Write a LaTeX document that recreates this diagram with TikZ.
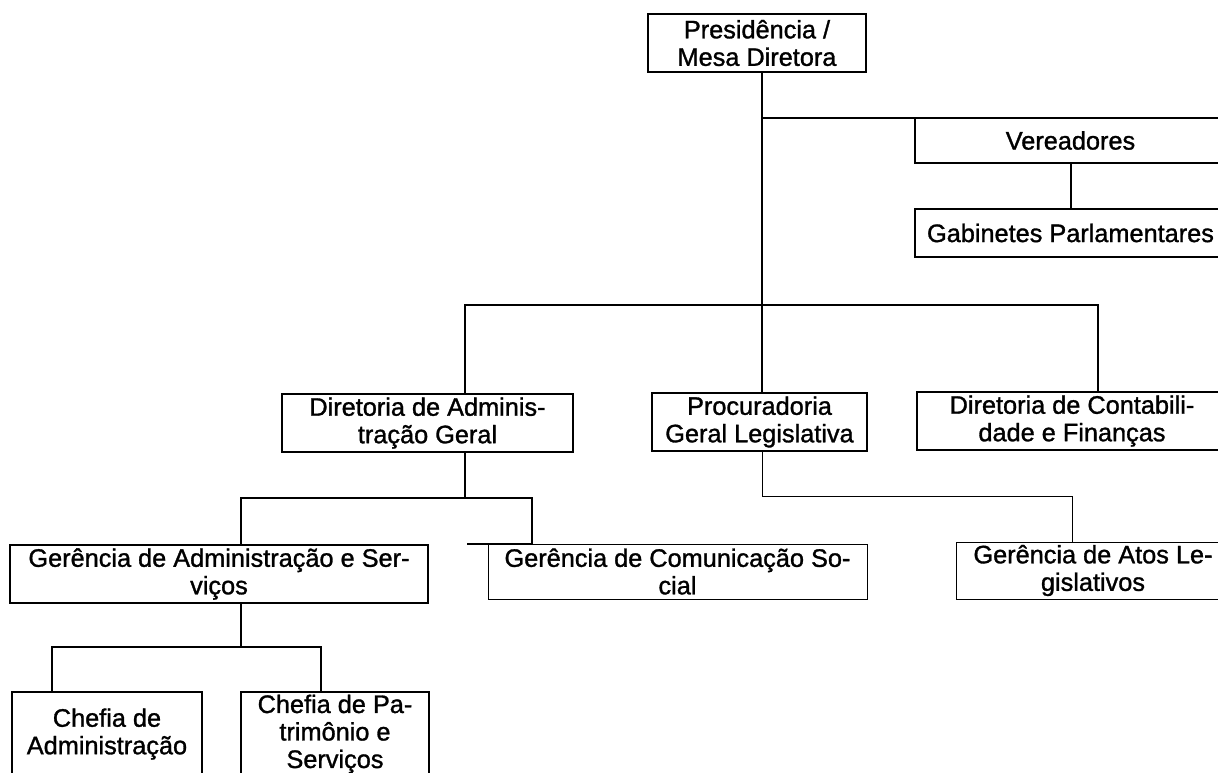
\documentclass[tikz,border=0pt]{standalone}
\usepackage{fontspec}
\setmainfont[FakeBold=1.2]{Liberation Sans}
\usepackage{tikz}
\usepackage{xcolor}

\begin{document}
\begin{tikzpicture}[x=1pt, y=-1pt,
    unit/.style={draw, line width=2.2pt, align=center, inner sep=0pt, outer sep=0pt,
        font=\fontsize{25.3}{27.5}\selectfont},
    thinunit/.style={unit, line width=1pt},
    link/.style={line width=2.2pt},
    thinlink/.style={line width=1pt}]
    \useasboundingbox (0,0) rectangle (1218,773);
    \node[unit, minimum width=218, minimum height=58] (pres) at (757,43) {Presidência /\\Mesa Diretora};
    \node[unit, minimum width=311, minimum height=45] (ver) at (1070.5,140.5) {Vereadores};
    \node[unit, minimum width=311, minimum height=48] (gab) at (1070.5,233) {Gabinetes Parlamentares};
    \node[unit, minimum width=291, minimum height=58] (dag) at (427.5,423) {Diretoria de Adminis-\\tração Geral};
    \node[unit, minimum width=215, minimum height=58] (pgl) at (759.5,422) {Procuradoria\\Geral Legislativa};
    \node[unit, minimum width=310, minimum height=58] (dcf) at (1072,421) {Diretoria de Contabili-\\dade e Finanças};
    \node[unit, minimum width=418, minimum height=58] (gas) at (219,574) {Gerência de Administração e Ser-\\viços};
    \node[thinunit, minimum width=379, minimum height=55] (gcs) at (677.5,571.5) {Gerência de Comunicação So-\\cial};
    \node[thinunit, minimum width=274, minimum height=57] (gal) at (1093,570.5) {Gerência de Atos Le-\\gislativos};
    \node[unit, minimum width=190, minimum height=84] (cad) at (107,734) {Chefia de\\Administração};
    \node[unit, minimum width=188, minimum height=84] (cps) at (335,734) {Chefia de Pa-\\trimônio e\\Serviços};

    \coordinate (spine) at (762,118);
    \coordinate (dagtap) at (465,305);
    \coordinate (dcftap) at (1098,305);
    \coordinate (gasbar) at (241,498);
    \coordinate (gcsbend) at (532,544);
    \coordinate (gcsend) at (467,544);
    \coordinate (chbar) at (241,647);
    \coordinate (cadtap) at (52,647);
    \coordinate (cpstap) at (321,647);
    \coordinate (galtap) at (1072,496);

    \draw[link] (pres.south -| spine) -- (pgl.north -| spine);
    \draw[link] (spine) -- (ver.north west);
    \draw[link] (ver.south -| 1071,0) -- (gab.north -| 1071,0);
    \draw[link] (dag.north -| dagtap) -- (dagtap) -- (dcftap) -- (dcf.north -| dcftap);
    \draw[link] (dag.south -| dagtap) |- (gasbar) -- (gas.north -| gasbar);
    \draw[link] (dagtap |- gasbar) -| (gcsbend) -- (gcsend);
    \draw[link] (gas.south -| chbar) -- (chbar);
    \draw[link] (cad.north -| cadtap) -- (cadtap) -- (cpstap) -- (cps.north -| cpstap);
    \draw[thinlink] (pgl.south -| spine) |- (galtap) -- (gal.north -| galtap);
\end{tikzpicture}
\end{document}
